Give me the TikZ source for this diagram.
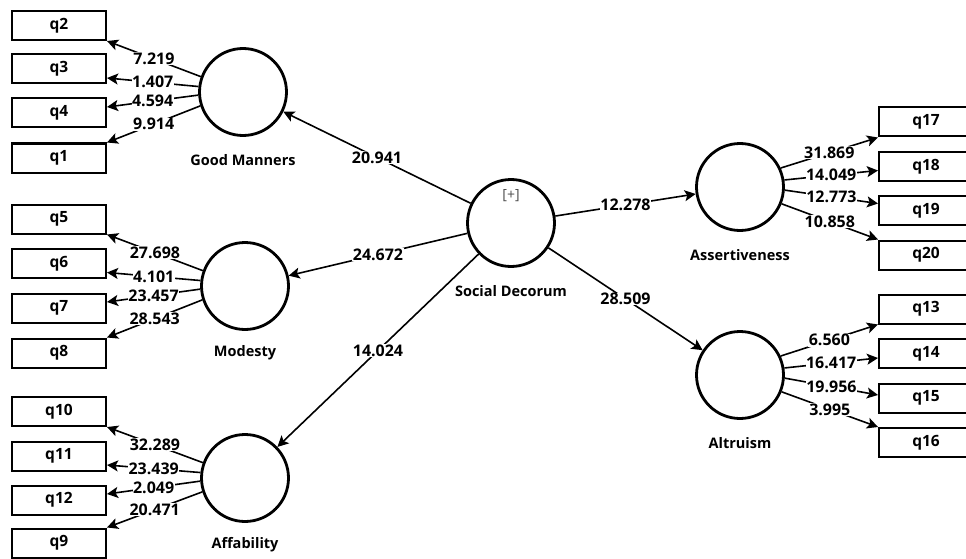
\documentclass[tikz,border=0pt]{standalone}
\usepackage{fontspec}
\setmainfont{Open Sans}
\usetikzlibrary{arrows.meta}
\begin{document}
\begin{tikzpicture}[x=1pt,y=-1pt,
  lv/.style={circle,draw,line width=2.8pt,minimum size=87pt,inner sep=0pt},
  mv/.style={rectangle,draw,line width=2pt,minimum width=94pt,minimum height=29pt,inner sep=0pt,font=\bfseries\fontsize{15.5}{17}\selectfont},
  lvname/.style={font=\bfseries\fontsize{14.5}{16}\selectfont},
  link/.style={line width=1.6pt,-{Stealth[length=11pt,width=11pt,inset=2.5pt]}},
  coef/.style={fill=white,inner sep=0.5pt,font=\bfseries\fontsize{16}{17}\selectfont},
]
\useasboundingbox (0,0) rectangle (966,559);
\clip (0,0) rectangle (966,559);

% latent variables
\node[lv] (gm) at (243,92) {};
\node[lv] (mo) at (245,286) {};
\node[lv] (af) at (245,478) {};
\node[lv] (sd) at (511,223) {};
\node[lv] (as) at (740,187) {};
\node[lv] (al) at (740,375) {};

% latent variable names
\node[lvname] (gmname) at ([yshift=-68pt]gm.center) {Good Manners};
\node[lvname] (moname) at ([yshift=-67pt]mo.center) {Modesty};
\node[lvname] (afname) at ([yshift=-67pt]af.center) {Affability};
\node[lvname] (sdname) at ([yshift=-68pt]sd.center) {Social Decorum};
\node[lvname] (asname) at ([yshift=-68pt]as.center) {Assertiveness};
\node[lvname] (alname) at ([yshift=-68pt]al.center) {Altruism};
\node[font=\fontsize{14}{15}\selectfont,text=black!70] (plus) at ([yshift=27pt]sd.center) {[+]};

% indicators, left
\node[mv] (q2)  at (59,25.5)  {q2};
\node[mv] (q3)  at (59,69)    {q3};
\node[mv] (q4)  at (59,113)   {q4};
\node[mv] (q1)  at (59,158)   {q1};
\node[mv] (q5)  at (59,219)   {q5};
\node[mv] (q6)  at (59,263.5) {q6};
\node[mv] (q7)  at (59,308)   {q7};
\node[mv] (q8)  at (59,353)   {q8};
\node[mv] (q10) at (59,411.5) {q10};
\node[mv] (q11) at (59,456)   {q11};
\node[mv] (q12) at (59,500)   {q12};
\node[mv] (q9)  at (59,543)   {q9};

% indicators, right
\node[mv] (q17) at (926,122)   {q17};
\node[mv] (q18) at (926,166.5) {q18};
\node[mv] (q19) at (926,210.5) {q19};
\node[mv] (q20) at (926,255)   {q20};
\node[mv] (q13) at (926,309)   {q13};
\node[mv] (q14) at (926,353.5) {q14};
\node[mv] (q15) at (926,398)   {q15};
\node[mv] (q16) at (926,442.5) {q16};

% structural paths
\draw[link] (sd) -- coordinate[midway] (p1) (gm);
\draw[link] (sd) -- coordinate[midway] (p2) (mo);
\draw[link] (sd) -- coordinate[midway] (p3) (af);
\draw[link] (sd) -- coordinate[midway] (p4) (as);
\draw[link] (sd) -- coordinate[midway] (p5) (al);

% outer loadings, Good Manners
\draw[link] (gm.160) -- coordinate[midway] (a1) (q2.south east);
\draw[link] (gm.173) -- coordinate[midway] (a2) ([yshift=-9pt]q3.east);
\draw[link] (gm.184) -- coordinate[midway] (a3) ([yshift=6pt]q4.east);
\draw[link] (gm.198) -- coordinate[midway] (a4) (q1.north east);

% outer loadings, Modesty
\draw[link] (mo.160) -- coordinate[midway] (b1) (q5.south east);
\draw[link] (mo.173) -- coordinate[midway] (b2) ([yshift=-9pt]q6.east);
\draw[link] (mo.184) -- coordinate[midway] (b3) ([yshift=6pt]q7.east);
\draw[link] (mo.198) -- coordinate[midway] (b4) (q8.north east);

% outer loadings, Affability
\draw[link] (af.160) -- coordinate[midway] (c1) (q10.south east);
\draw[link] (af.173) -- coordinate[midway] (c2) ([yshift=-9pt]q11.east);
\draw[link] (af.184) -- coordinate[midway] (c3) ([yshift=6pt]q12.east);
\draw[link] (af.198) -- coordinate[midway] (c4) (q9.north east);

% outer loadings, Assertiveness
\draw[link] (as.25) -- coordinate[midway] (d1) (q17.south west);
\draw[link] (as.9) -- coordinate[midway] (d2) ([yshift=-4pt]q18.west);
\draw[link] (as.-4) -- coordinate[midway] (d3) ([yshift=7pt]q19.west);
\draw[link] (as.-22) -- coordinate[midway] (d4) (q20.north west);

% outer loadings, Altruism
\draw[link] (al.25) -- coordinate[midway] (e1) (q13.south west);
\draw[link] (al.9) -- coordinate[midway] (e2) ([yshift=-4.5pt]q14.west);
\draw[link] (al.-4) -- coordinate[midway] (e3) ([yshift=3pt]q15.west);
\draw[link] (al.-22) -- coordinate[midway] (e4) (q16.north west);

% path coefficients, set above all connectors
\node[coef] (t1) at (p1) {20.941};
\node[coef] (t2) at (p2) {24.672};
\node[coef] (t3) at (p3) {14.024};
\node[coef] (t4) at (p4) {12.278};
\node[coef] (t5) at (p5) {28.509};

\node[coef] (ta1) at (a1) {7.219};
\node[coef] (ta2) at (a2) {1.407};
\node[coef] (ta3) at (a3) {4.594};
\node[coef] (ta4) at (a4) {9.914};

\node[coef] (tb1) at (b1) {27.698};
\node[coef] (tb2) at (b2) {4.101};
\node[coef] (tb3) at (b3) {23.457};
\node[coef] (tb4) at (b4) {28.543};

\node[coef] (tc1) at (c1) {32.289};
\node[coef] (tc2) at (c2) {23.439};
\node[coef] (tc3) at (c3) {2.049};
\node[coef] (tc4) at (c4) {20.471};

\node[coef] (td1) at (d1) {31.869};
\node[coef] (td2) at (d2) {14.049};
\node[coef] (td3) at (d3) {12.773};
\node[coef] (td4) at (d4) {10.858};

\node[coef] (te1) at (e1) {6.560};
\node[coef] (te2) at (e2) {16.417};
\node[coef] (te3) at (e3) {19.956};
\node[coef] (te4) at (e4) {3.995};
\end{tikzpicture}
\end{document}
